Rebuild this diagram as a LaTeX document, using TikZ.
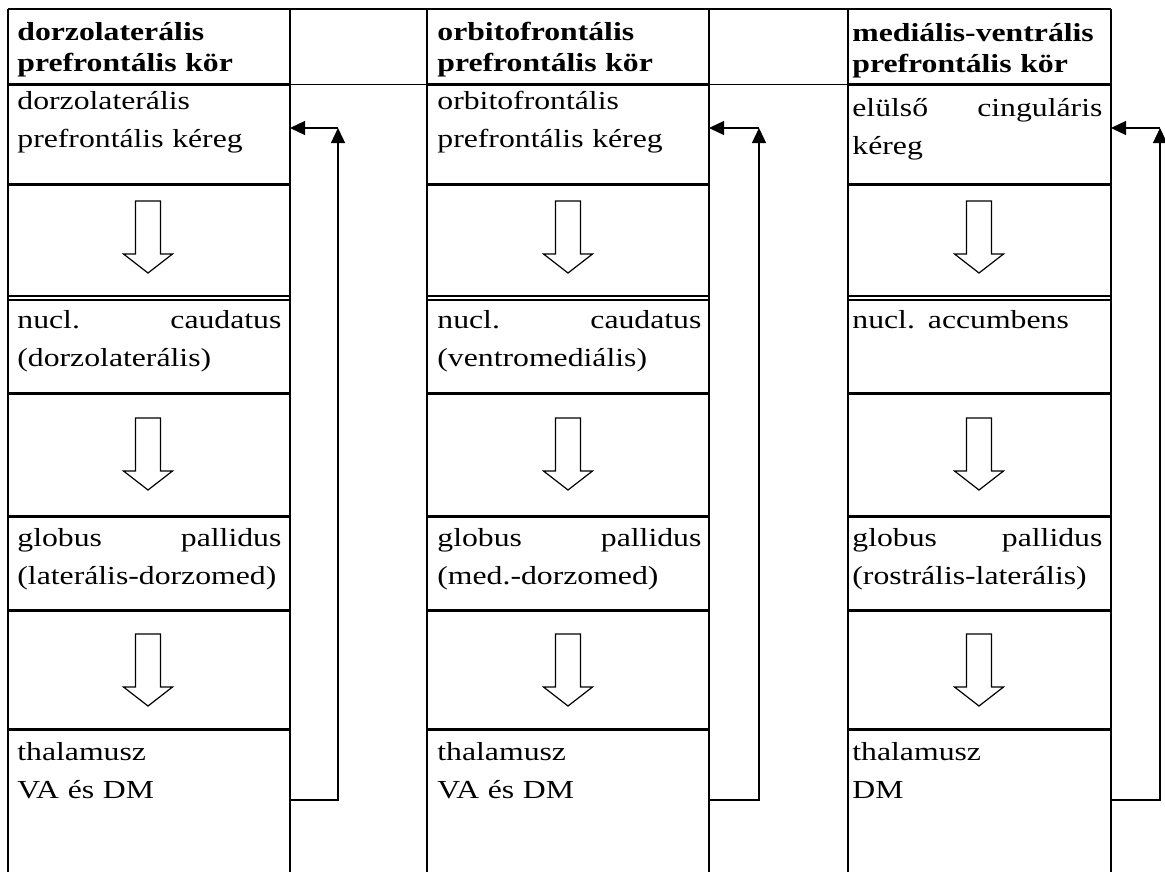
\documentclass[tikz,border=0pt]{standalone}
\usepackage{fontspec}
\setmainfont{Liberation Serif}[FakeStretch=1.22]
\usepackage{tikz}
\usetikzlibrary{arrows.meta}

\tikzset{
  celltext/.style={anchor=base west,inner sep=0pt,align=left,font=\fontsize{13}{19}\selectfont},
  headtext/.style={celltext,font=\bfseries\fontsize{13}{15.5}\selectfont},
  thickrule/.style={line width=1.5pt},
  wallline/.style={line width=1pt},
  back/.style={line width=0.65pt,-{Triangle[length=7.5pt,width=7pt]}},
  hollowarrow/.pic={\draw[line width=0.6pt] (-12.5,0) -- (-12.5,53) -- (-24.5,53) -- (0,72) -- (24.5,53) -- (12.5,53) -- (12.5,0) -- cycle;}
}

\begin{document}
\begin{tikzpicture}[x=0.5pt,y=-0.5pt]
\useasboundingbox (0,0) rectangle (1165,872);

% walls
\draw[wallline] (8,9) -- (1111,9);
\draw[wallline] (8,9) -- (8,872);
\draw[wallline] (290,9) -- (290,872);
\draw[wallline] (427,9) -- (427,872);
\draw[wallline] (709,9) -- (709,872);
\draw[wallline] (848,9) -- (848,872);
\draw[wallline] (1111,9) -- (1111,872);
\draw[line width=0.5pt] (8,85) -- (1111,85);

% rows
\draw[thickrule] (8,85) -- (290,85) (427,85) -- (709,85) (848,85) -- (1111,85);
\draw[thickrule] (8,184) -- (290,184) (427,184) -- (709,184) (848,184) -- (1111,184);
\draw[wallline] (8,296) -- (290,296) (427,296) -- (709,296) (848,296) -- (1111,296);
\draw[line width=0.6pt] (8,300) -- (290,300) (427,300) -- (709,300) (848,300) -- (1111,300);
\draw[thickrule] (8,393) -- (290,393) (427,393) -- (709,393) (848,393) -- (1111,393);
\draw[thickrule] (8,516) -- (290,516) (427,516) -- (709,516) (848,516) -- (1111,516);
\draw[thickrule] (8,610) -- (290,610) (427,610) -- (709,610) (848,610) -- (1111,610);
\draw[thickrule] (8,729) -- (290,729) (427,729) -- (709,729) (848,729) -- (1111,729);

% first loop
\node[headtext,text width=132pt] (h1) at (17,41) {dorzolaterális\\prefrontális kör};
\node[celltext,text width=132pt] (k1) at (17,110) {dorzolaterális\\prefrontális kéreg};
\node[celltext,text width=132pt] (n1) at (17,328) {nucl.\hfill caudatus\\(dorzolaterális)};
\node[celltext,text width=132pt] (g1) at (17,546) {globus\hfill pallidus\\(laterális-dorzomed)};
\node[celltext,text width=132pt] (t1) at (17,760) {thalamusz\\VA és DM};
\pic at (148,201) {hollowarrow};
\pic at (148,418) {hollowarrow};
\pic at (148,634) {hollowarrow};

% second loop
\node[headtext,text width=132pt] (h2) at (437,41) {orbitofrontális\\prefrontális kör};
\node[celltext,text width=132pt] (k2) at (437,110) {orbitofrontális\\prefrontális kéreg};
\node[celltext,text width=132pt] (n2) at (437,328) {nucl.\hfill caudatus\\(ventromediális)};
\node[celltext,text width=132pt] (g2) at (437,546) {globus\hfill pallidus\\(med.-dorzomed)};
\node[celltext,text width=132pt] (t2) at (437,760) {thalamusz\\VA és DM};
\pic at (568,201) {hollowarrow};
\pic at (568,418) {hollowarrow};
\pic at (568,634) {hollowarrow};

% third loop
\node[headtext,text width=125pt] (h3) at (852,42) {mediális-ventrális\\prefrontális kör};
\node[celltext,text width=125pt] (k3) at (852,116) {elülső\hfill cinguláris\\kéreg};
\node[celltext,text width=125pt] (n3) at (852,328) {nucl. accumbens};
\node[celltext,text width=125pt] (g3) at (852,546) {globus\hfill pallidus\\(rostrális-laterális)};
\node[celltext,text width=125pt] (t3) at (852,760) {thalamusz\\DM};
\pic at (979,201) {hollowarrow};
\pic at (979,418) {hollowarrow};
\pic at (979,634) {hollowarrow};

% feedback
\coordinate (out1) at (290,800);
\coordinate (turn1) at (338,128);
\coordinate (in1) at (290,128);
\coordinate (out2) at (709,800);
\coordinate (turn2) at (759,128);
\coordinate (in2) at (709,128);
\coordinate (out3) at (1111,800);
\coordinate (turn3) at (1160,128);
\coordinate (in3) at (1111,128);
\draw[back] (out1) -| (turn1);
\draw[back] (turn1) -- (in1);
\draw[back] (out2) -| (turn2);
\draw[back] (turn2) -- (in2);
\draw[back] (out3) -| (turn3);
\draw[back] (turn3) -- (in3);
\end{tikzpicture}
\end{document}
